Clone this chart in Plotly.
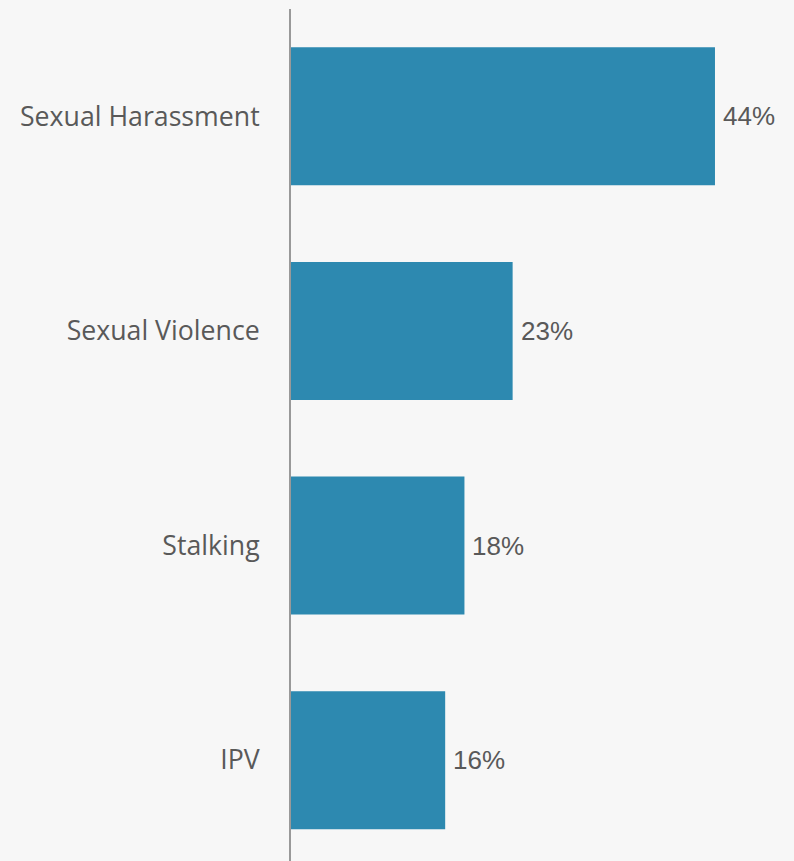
import plotly.graph_objects as go

categories = ["Sexual Harassment", "Sexual Violence", "Stalking", "IPV"]
values = [44, 23, 18, 16]
labels = ["44%", "23%", "18%", "16%"]

bg = "#f7f7f7"
bar_color = "#2d89b0"
text_color = "#595959"

fig = go.Figure()
fig.add_trace(go.Bar(
    y=categories,
    x=values,
    orientation="h",
    marker=dict(color=bar_color, line=dict(width=0)),
    hoverinfo="skip",
))

# value labels just right of each bar end
for cat, val, lab in zip(categories, values, labels):
    fig.add_annotation(
        x=val, y=cat, text=lab,
        xanchor="left", yanchor="middle",
        xshift=6, showarrow=False,
        font=dict(family="Liberation Sans", size=26, color=text_color),
    )

fig.update_layout(
    width=794,
    height=861,
    margin=dict(l=291, r=0, t=9, b=0),
    paper_bgcolor=bg,
    plot_bgcolor=bg,
    bargap=0.357,
    showlegend=False,
    xaxis=dict(
        range=[0, 52.2],
        showgrid=False,
        zeroline=False,
        showticklabels=False,
        showline=False,
    ),
    yaxis=dict(
        type="category",
        categoryorder="array",
        categoryarray=categories,
        range=[3.47, -0.5],
        showgrid=False,
        zeroline=False,
        showline=True,
        linecolor="#999999",
        linewidth=2,
        ticks="",
        ticklabelstandoff=24,
        tickfont=dict(family="Open Sans", size=26.7, color=text_color),
    ),
)

fig.write_html(
    "out.html",
    config={"displayModeBar": False},
    post_script="document.body.style.margin='0';",
)
